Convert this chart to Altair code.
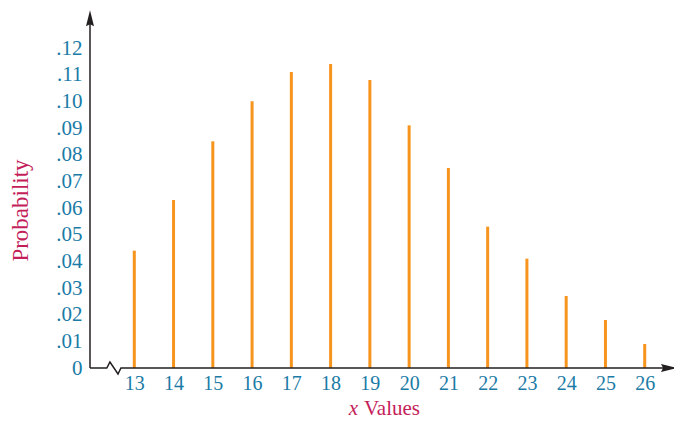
import altair as alt
import pandas as pd

# ---- data ----
x_values = [13, 14, 15, 16, 17, 18, 19, 20, 21, 22, 23, 24, 25, 26]
probabilities = [0.044, 0.063, 0.085, 0.100, 0.111, 0.114, 0.108,
                 0.091, 0.075, 0.053, 0.041, 0.027, 0.018, 0.009]
y_ticks = [0, 0.01, 0.02, 0.03, 0.04, 0.05, 0.06, 0.07, 0.08, 0.09, 0.10, 0.11, 0.12]

X_MIN, X_MAX = 11.872, 26.746
Y_MAX = 0.135

# x-axis line with the break (zigzag) near the origin
axis_x = [X_MIN, 12.30, 12.38, 12.585, 12.66, X_MAX]
axis_y = [0, 0, 0.00225, -0.00225, 0, 0]

LABEL_COLOR = "#1b7ba6"
TITLE_COLOR = "#c41e5a"
BAR_COLOR = "#f7941d"
AXIS_COLOR = "#231f20"
FONT = "Liberation Serif"

df = pd.DataFrame({"x": x_values, "p": probabilities})
xs = alt.Scale(domain=[X_MIN, X_MAX], nice=False, zero=False)
ys = alt.Scale(domain=[0, Y_MAX], nice=False, zero=False)

x_axis = alt.Axis(
    values=x_values, ticks=False, domain=False, grid=False, title=None,
    labelFont=FONT, labelFontSize=20, labelColor=LABEL_COLOR, labelPadding=5,
    labelFlush=False, labelOverlap=False)
y_axis = alt.Axis(
    values=y_ticks, ticks=False, domain=False, grid=False,
    labelExpr="datum.value == 0 ? '0' : substring(format(datum.value, '.2f'), 1)",
    labelFont=FONT, labelFontSize=21, labelColor=LABEL_COLOR, labelPadding=8,
    labelOverlap=False, labelFlush=False,
    title="Probability", titleFont=FONT, titleFontSize=23, titleFontWeight="normal",
    titleColor=TITLE_COLOR, titleAngle=270, titleX=-70, titleY=202,
    titleAlign="center", titleBaseline="middle")


def X(f):
    return alt.X(f, type="quantitative", scale=xs, axis=x_axis)


def Y(f):
    return alt.Y(f, type="quantitative", scale=ys, axis=y_axis)


bars = alt.Chart(df).transform_calculate(base="0").mark_rule(
    color=BAR_COLOR, strokeWidth=3
).encode(x=X("x"), y=Y("p"), y2="base:Q")

xline = alt.Chart(pd.DataFrame({"x": axis_x, "p": axis_y, "o": list(range(len(axis_x)))})).mark_line(
    color=AXIS_COLOR, strokeWidth=1.5, clip=False
).encode(x=X("x"), y=Y("p"), order="o:O")

yline = alt.Chart(pd.DataFrame({"x": [X_MIN, X_MIN], "p": [0, 0.1312]})).mark_line(
    color=AXIS_COLOR, strokeWidth=1.5, clip=False
).encode(x=X("x"), y=Y("p"))

ARROW = "M0,-1L0.5,1L0,0.75L-0.5,1Z"
up_arrow = alt.Chart(pd.DataFrame({"x": [X_MIN], "p": [0.1312]})).mark_point(
    shape=ARROW, filled=True, color=AXIS_COLOR, opacity=1, size=256, strokeWidth=0, clip=False
).encode(x=X("x"), y=Y("p"))

right_arrow = alt.Chart(pd.DataFrame({"x": [26.62], "p": [0]})).mark_point(
    shape=ARROW, filled=True, color=AXIS_COLOR, opacity=1, size=256, strokeWidth=0,
    angle=90, clip=False
).encode(x=X("x"), y=Y("p"))

xt1 = alt.Chart(pd.DataFrame({"t": ["x"]})).mark_text(
    font=FONT, fontSize=21, fontStyle="italic", color=TITLE_COLOR, align="right",
    baseline="bottom"
).encode(text="t:N", x=alt.value(268), y=alt.value(411))

xt2 = alt.Chart(pd.DataFrame({"t": ["Values"]})).mark_text(
    font=FONT, fontSize=21, color=TITLE_COLOR, align="left", baseline="bottom"
).encode(text="t:N", x=alt.value(274), y=alt.value(411))

chart = alt.layer(bars, xline, yline, up_arrow, right_arrow, xt1, xt2).properties(
    width=584, height=360,
    autosize=alt.AutoSizeParams(type="none"),
    padding={"left": 82, "top": 0, "right": 0, "bottom": 52},
    background="white",
).configure_view(stroke=None).configure_axis(labelOverlap=False)

chart.save("out.html", embed_options={"renderer": "svg", "actions": False})
